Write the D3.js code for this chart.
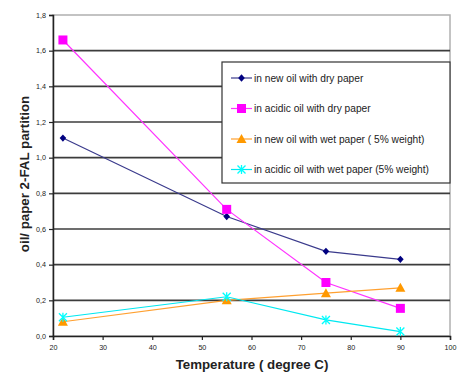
<!DOCTYPE html>
<html>
<head>
<meta charset="utf-8">
<script src="https://cdn.jsdelivr.net/npm/d3@7"></script>
<style>
  body { margin: 0; background: #fff; }
  svg { font-family: "Liberation Sans", Arial, sans-serif; }
</style>
</head>
<body>
<svg width="461" height="379"></svg>
<script>
// temperatures (degree C)
var temps = [22, 55, 75, 90];

// partition values per series
var newDry = [1.11, 0.67, 0.475, 0.43];
var acidDry = [1.66, 0.71, 0.30, 0.155];
var newWet = [0.08, 0.20, 0.24, 0.27];
var acidWet = [0.105, 0.22, 0.09, 0.025];

var seriesNames = [
  "in new oil with dry paper",
  "in acidic oil with dry paper",
  "in new oil with wet paper ( 5% weight)",
  "in acidic oil with wet paper (5% weight)"
];

var xTicks = [20, 30, 40, 50, 60, 70, 80, 90, 100];
var yTicks = [0, 0.2, 0.4, 0.6, 0.8, 1.0, 1.2, 1.4, 1.6, 1.8];

var series = [
  {name: seriesNames[0], values: newDry, color: "#000080", line: "#3a3a8c", marker: "diamond"},
  {name: seriesNames[1], values: acidDry, color: "#ff00ff", line: "#ff33ff", marker: "square"},
  {name: seriesNames[2], values: newWet, color: "#ff9900", line: "#ffa030", marker: "triangle"},
  {name: seriesNames[3], values: acidWet, color: "#00ffff", line: "#00e8f0", marker: "cross"}
];

// plot box
var plotL = 53, plotR = 450, plotT = 15, plotB = 336;

var svg = d3.select("svg");

var x = d3.scaleLinear().domain([20, 100]).range([plotL, plotR]);
var y = d3.scaleLinear().domain([0, 1.8]).range([plotB, plotT]);

var fmt = function(d) { return d3.format(".1f")(d).replace(".", ","); };

// plot frame (right/top light)
svg.append("rect")
  .attr("x", plotL).attr("y", plotT)
  .attr("width", plotR - plotL).attr("height", plotB - plotT)
  .attr("fill", "none")
  .attr("stroke", "#b0b0b0")
  .attr("stroke-width", 1.5);

// gridlines
svg.append("g").selectAll("line")
  .data(yTicks.filter(function(d){ return d > 0 && d < 1.8; }))
  .enter().append("line")
  .attr("x1", plotL).attr("x2", plotR)
  .attr("y1", function(d){ return y(d); })
  .attr("y2", function(d){ return y(d); })
  .attr("stroke", "#3c3c3c")
  .attr("stroke-width", 1.6);

// axes
var yAxis = svg.append("g")
  .attr("transform", "translate(" + plotL + ",0)")
  .call(d3.axisLeft(y).tickValues(yTicks).tickFormat(fmt).tickSize(4).tickPadding(3));
var xAxis = svg.append("g")
  .attr("transform", "translate(0," + plotB + ")")
  .call(d3.axisBottom(x).tickValues(xTicks).tickFormat(d3.format("d")).tickSize(4).tickPadding(5));

[xAxis, yAxis].forEach(function(a){
  a.select(".domain").attr("stroke", "#222").attr("stroke-width", 1.5);
  a.selectAll(".tick line").attr("stroke", "#222").attr("stroke-width", 1.2);
  a.selectAll("text").attr("font-size", 7.2).attr("fill", "#222")
    .attr("font-family", "Liberation Sans, Arial, sans-serif");
});

// markers
function drawMarker(g, type, color, cx, cy) {
  if (type === "diamond") {
    g.append("path")
      .attr("d", d3.symbol().type(d3.symbolDiamond2).size(28)())
      .attr("transform", "translate(" + cx + "," + cy + ") scale(1,1.1)")
      .attr("fill", color);
  } else if (type === "square") {
    g.append("rect")
      .attr("x", cx - 4.5).attr("y", cy - 4.5)
      .attr("width", 9).attr("height", 9)
      .attr("fill", color);
  } else if (type === "triangle") {
    g.append("path")
      .attr("d", "M0,-5L5,4L-5,4Z")
      .attr("transform", "translate(" + cx + "," + cy + ")")
      .attr("fill", color);
  } else {
    g.append("path")
      .attr("d", "M-4,-4L4,4M-4,4L4,-4M0,-4.5L0,4.5")
      .attr("transform", "translate(" + cx + "," + cy + ")")
      .attr("stroke", color).attr("stroke-width", 1.3).attr("fill", "none");
  }
}

var line = d3.line()
  .x(function(d){ return x(d[0]); })
  .y(function(d){ return y(d[1]); });

series.forEach(function(s){
  var pts = temps.map(function(t, i){ return [t, s.values[i]]; });
  var g = svg.append("g");
  g.append("path")
    .attr("d", line(pts))
    .attr("fill", "none")
    .attr("stroke", s.line)
    .attr("stroke-width", 1.2);
  pts.forEach(function(p){
    drawMarker(g, s.marker, s.color, x(p[0]), y(p[1]));
  });
});

// legend
var lg = svg.append("g");
lg.append("rect")
  .attr("x", 222).attr("y", 62)
  .attr("width", 228).attr("height", 121)
  .attr("fill", "#fff")
  .attr("stroke", "#333")
  .attr("stroke-width", 1.2);

series.forEach(function(s, i){
  var ly = 78 + i * 30.5;
  lg.append("line")
    .attr("x1", 231).attr("x2", 252)
    .attr("y1", ly).attr("y2", ly)
    .attr("stroke", s.line).attr("stroke-width", 1.2);
  drawMarker(lg, s.marker, s.color, 241.5, ly);
  lg.append("text")
    .attr("x", 254).attr("y", ly + 3.5)
    .attr("font-size", 10.2)
    .attr("fill", "#222")
    .text(s.name);
});

// axis titles
svg.append("text")
  .attr("x", 252).attr("y", 369)
  .attr("text-anchor", "middle")
  .attr("font-size", 13.3)
  .attr("font-weight", "bold")
  .attr("fill", "#222")
  .text("Temperature ( degree C)");

svg.append("text")
  .attr("transform", "translate(28.5,174) rotate(-90)")
  .attr("text-anchor", "middle")
  .attr("font-size", 13.3)
  .attr("font-weight", "bold")
  .attr("fill", "#222")
  .text("oil/ paper 2-FAL partition");
</script>
</body>
</html>
